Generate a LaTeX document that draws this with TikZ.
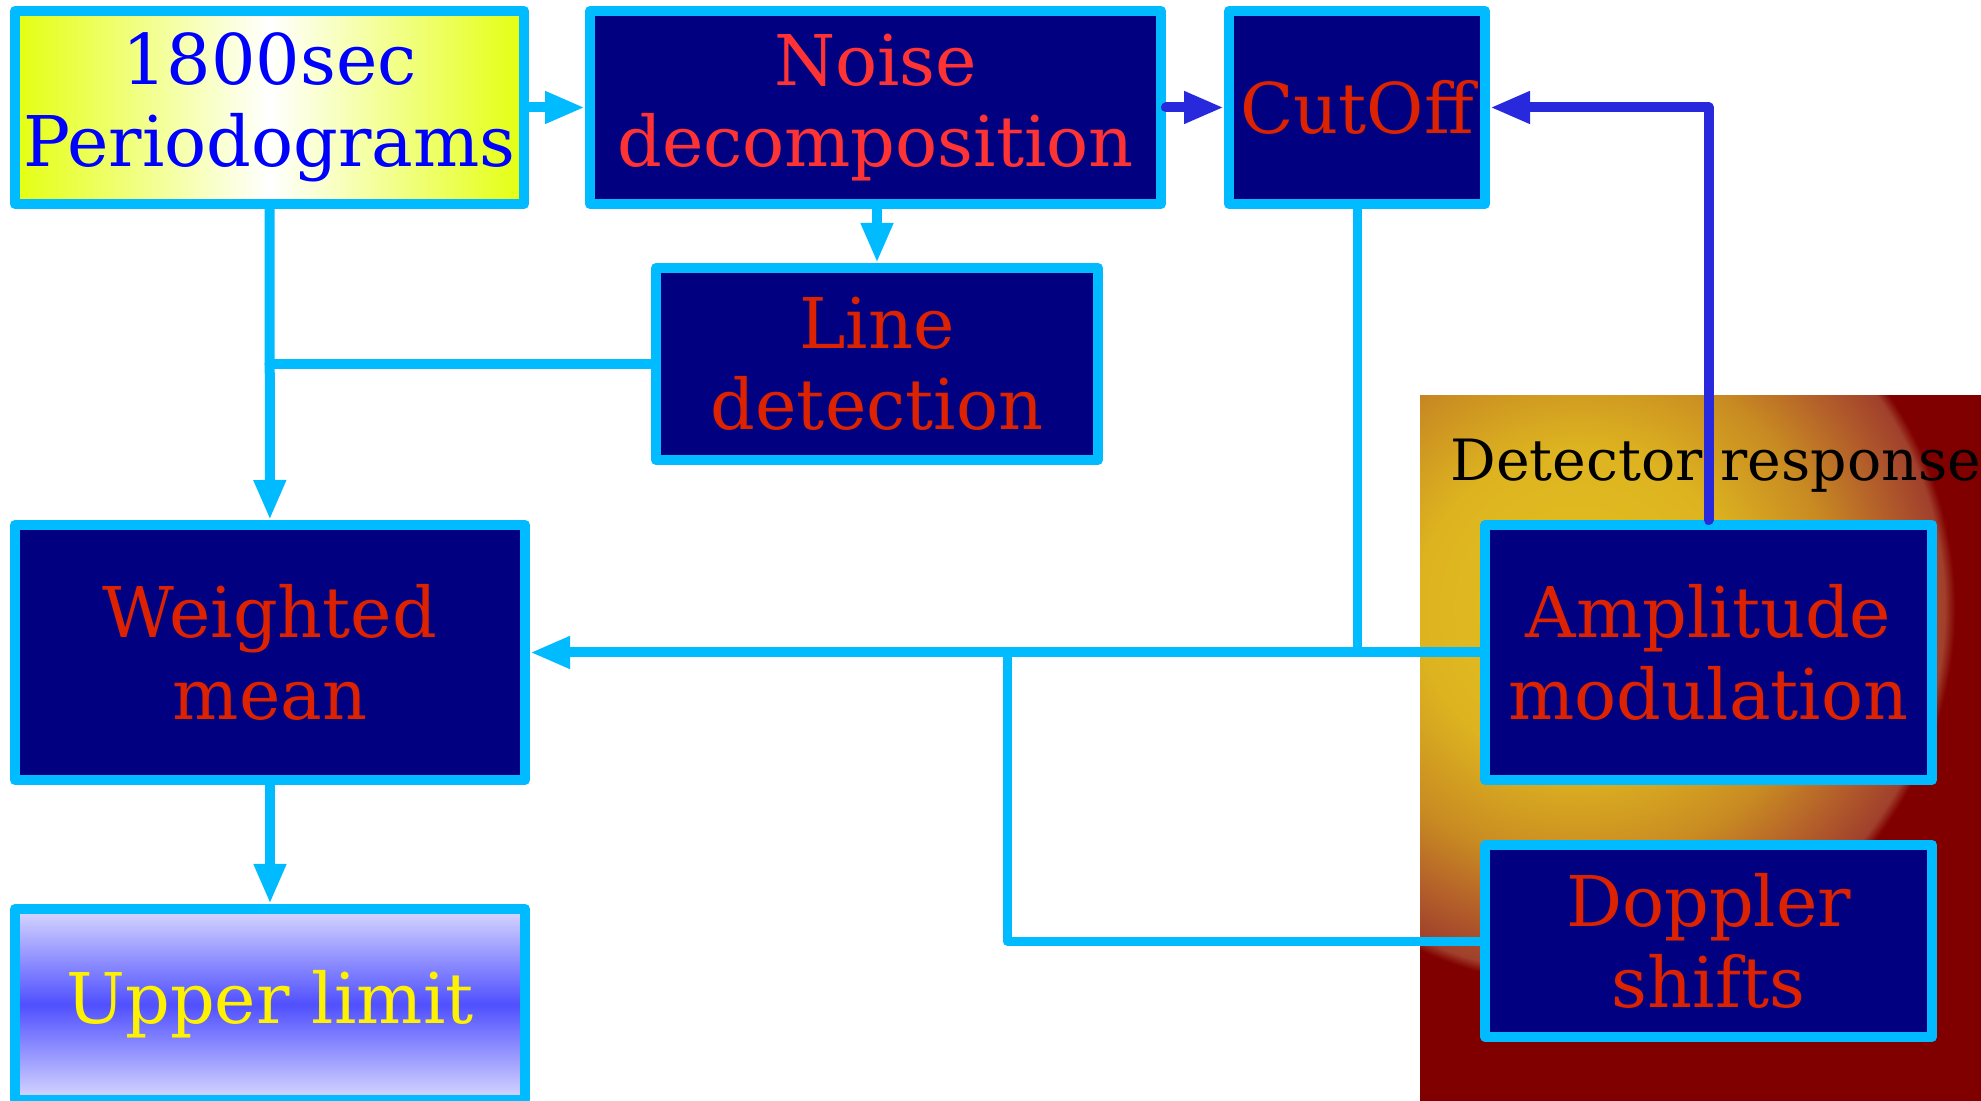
\documentclass[tikz,border=0pt]{standalone}
\usepackage{fontspec}
\setmainfont{DejaVu Serif}
\usetikzlibrary{arrows.meta}
\definecolor{navybox}{HTML}{000080}
\definecolor{skyline}{HTML}{00BBFF}
\definecolor{bluearrow}{HTML}{2828DC}
\definecolor{redtext}{HTML}{DD2200}
\definecolor{noisered}{HTML}{FF3333}
\definecolor{periyellow}{HTML}{E4FF10}
\definecolor{uppertop}{HTML}{D8D8FF}
\definecolor{uppermid}{HTML}{5050FF}
\definecolor{respyellow}{HTML}{E4C020}
\definecolor{respgold}{HTML}{DDB420}
\definecolor{resporange}{HTML}{C88A22}
\definecolor{respbrown}{HTML}{B4602A}
\definecolor{respred}{HTML}{A0402C}
\definecolor{respdark}{HTML}{800000}
\pgfdeclareradialshading{respglow}{\pgfpoint{0bp}{0bp}}{color(0bp)=(respyellow); color(5.25bp)=(respgold); color(8.5bp)=(resporange); color(10.5bp)=(respbrown); color(12.15bp)=(respred); color(12.5bp)=(respdark); color(50bp)=(respdark)}
\begin{document}
\begin{tikzpicture}[line join=round, line cap=round, >={Triangle[length=0.4cm,width=0.3cm]}]
			\tikzset{box/.style={draw=skyline, line width=0.1cm, fill=navybox, inner sep=0pt, align=center, text=redtext, font=\fontsize{19.9}{23.2}\selectfont}}
			\tikzset{skyarrow/.style={draw=skyline, line width=0.1cm}}
			\tikzset{bluelink/.style={draw=bluearrow, line width=0.1cm}}
			\useasboundingbox (0,0) rectangle (19.81,11);
			\begin{scope}
				\clip (14.2,0) rectangle (19.81,7.04);
				\shade[shading=respglow] (15.78,4.92) circle (7.54);
			\end{scope}
			\node[anchor=base west, font=\fontsize{16.2}{19}\selectfont] (resp) at (14.38,6.19) {Detector response};
			\node[box, left color=periyellow, right color=periyellow, middle color=white, text=blue, minimum width=5.09cm, minimum height=1.93cm] (peri) at (2.695,9.925) {1800sec\\Periodograms};
			\node[box, text=noisered, minimum width=5.71cm, minimum height=1.93cm] (noise) at (8.755,9.925) {Noise\\decomposition};
			\node[box, minimum width=2.56cm, minimum height=1.93cm] (cutoff) at (13.57,9.925) {CutOff};
			\node[box, minimum width=4.42cm, minimum height=1.92cm] (line) at (8.77,7.36) {Line\\detection};
			\node[box, minimum width=5.10cm, minimum height=2.55cm] (mean) at (2.70,4.475) {Weighted\\mean};
			\node[box, top color=uppertop, bottom color=uppertop, middle color=uppermid, text=yellow, minimum width=5.10cm, minimum height=1.91cm] (upper) at (2.70,0.955) {Upper limit};
			\node[box, minimum width=4.47cm, minimum height=2.55cm] (amp) at (17.085,4.475) {Amplitude\\modulation};
			\node[box, minimum width=4.47cm, minimum height=1.92cm] (doppler) at (17.085,1.59) {Doppler\\shifts};
			\coordinate (join) at (10.07,4.475);
			\draw[skyarrow,->] (peri) -- (noise);
			\draw[bluelink,->] (noise) -- (cutoff);
			\draw[skyarrow,->] (line.north |- noise.south) -- (line.north);
			\draw[skyarrow,->] (peri) -- (mean);
			\draw[skyarrow] (line.west) -- (line.west -| peri.south);
			\draw[skyarrow,->] (mean) -- (upper);
			\draw[skyarrow,->] (amp) -- (mean);
			\draw[skyarrow, line width=0.09cm] (cutoff.south) -- (cutoff.south |- amp.west);
			\draw[skyarrow, line width=0.09cm] (doppler.west) -| (join);
			\draw[bluelink,->] (amp.north) |- (cutoff.east);
		\end{tikzpicture}
\end{document}
